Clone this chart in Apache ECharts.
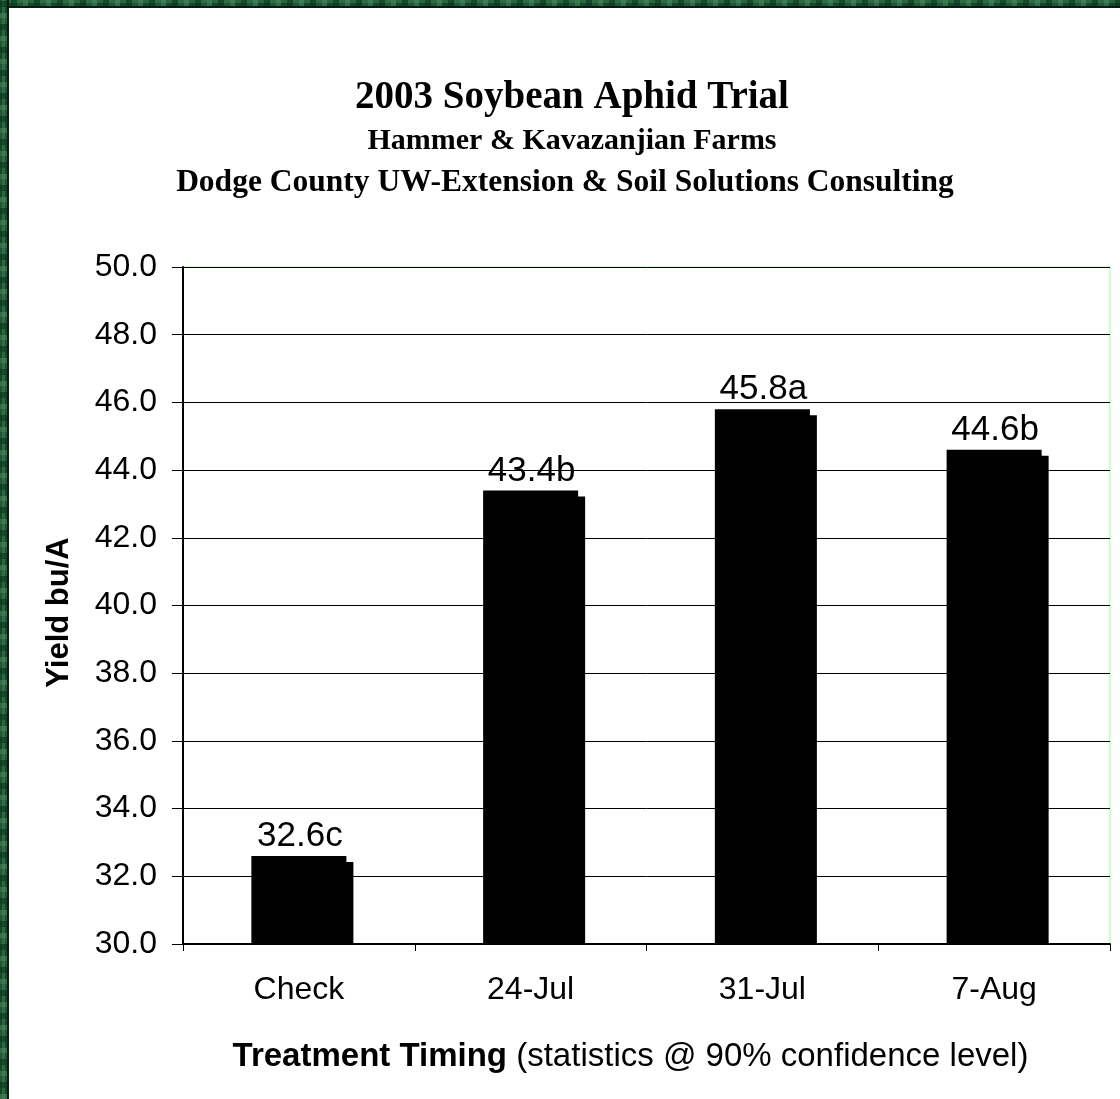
<!DOCTYPE html>
<html>
<head>
<meta charset="utf-8">
<title>2003 Soybean Aphid Trial</title>
<script src="https://cdn.jsdelivr.net/npm/echarts@6/dist/echarts.min.js"></script>
<style>
  html, body { margin: 0; padding: 0; background: #fff; }
  #chart { position: absolute; left: 0; top: 0; width: 1120px; height: 1099px; }
  .frame { position: absolute; pointer-events: none;
    background:
      repeating-linear-gradient(90deg, rgba(90,150,110,0.45) 0 5px, rgba(10,50,25,0.0) 5px 11px, rgba(10,55,30,0.6) 11px 17px, rgba(60,120,80,0.3) 17px 23px),
      repeating-linear-gradient(0deg, rgba(0,40,15,0.35) 0 3px, rgba(70,140,95,0.25) 3px 7px, rgba(20,80,45,0.2) 7px 10px),
      #1f5a35; }
  #frameTop { left: 0; top: 0; width: 1120px; height: 6px; border-bottom: 2px solid #05200e; }
  #frameLeft { left: 0; top: 0; width: 7px; height: 1099px; border-right: 2px solid #05200e;
    background:
      repeating-linear-gradient(0deg, rgba(90,150,110,0.45) 0 5px, rgba(10,50,25,0.0) 5px 11px, rgba(10,55,30,0.6) 11px 17px, rgba(60,120,80,0.3) 17px 23px),
      repeating-linear-gradient(90deg, rgba(0,40,15,0.35) 0 2px, rgba(70,140,95,0.25) 2px 5px),
      #1f5a35; }
</style>
</head>
<body>
<div id="chart"></div>
<div id="frameTop" class="frame"></div>
<div id="frameLeft" class="frame"></div>
<script>
// Treatment timings and mean yields (bu/A) with significance letters
const categories = ['Check', '24-Jul', '31-Jul', '7-Aug'];
const yields = [32.6, 43.4, 45.8, 44.6];
const letters = ['c', 'b', 'a', 'b'];
const yTicks = { min: 30, max: 50, interval: 2 };

const chart = echarts.init(document.getElementById('chart'), null, { renderer: 'canvas' });

const serif = '"Liberation Serif", "Times New Roman", serif';
const sans = '"Liberation Sans", Arial, sans-serif';

// Each bar is drawn as a solid block with a dropped offset block behind it
function renderBar(params, api) {
  const idx = api.value(0);
  const val = api.value(1);
  const top = api.coord([idx, val]);
  const base = api.coord([idx, yTicks.min]);
  const bw = api.size([1, 0])[0] * 0.41;
  const x = top[0] - bw / 2;
  const h = base[1] - top[1];
  const dx = 7, dy = 6;
  return {
    type: 'group',
    children: [
      { type: 'rect', shape: { x: x + dx, y: top[1] + dy, width: bw, height: h - dy },
        style: { fill: '#000' } },
      { type: 'rect', shape: { x: x, y: top[1], width: bw, height: h },
        style: { fill: '#000' } },
      { type: 'text', x: top[0] + 1, y: top[1] - 2,
        style: { text: val.toFixed(1) + letters[idx], font: '35px ' + sans, fill: '#000',
                 align: 'center', verticalAlign: 'bottom' } }
    ]
  };
}

chart.setOption({
  backgroundColor: '#fff',
  animation: false,
  grid: {
    left: 183, right: 10, top: 267, bottom: 155,
    show: true, borderColor: '#ccffcc', borderWidth: 2, backgroundColor: '#fff'
  },
  graphic: [
    { type: 'text', x: 572, y: 98, style: { text: '2003 Soybean Aphid Trial', font: 'bold 39px ' + serif,
      fill: '#000', align: 'center', verticalAlign: 'middle' } },
    { type: 'text', x: 572, y: 141, style: { text: 'Hammer & Kavazanjian Farms', font: 'bold 30px ' + serif,
      fill: '#000', align: 'center', verticalAlign: 'middle' } },
    { type: 'text', x: 565, y: 183, style: { text: 'Dodge County UW-Extension & Soil Solutions Consulting',
      font: 'bold 31.5px ' + serif, fill: '#000', align: 'center', verticalAlign: 'middle' } }
  ],
  xAxis: {
    type: 'category',
    data: categories,
    boundaryGap: true,
    axisLine: { lineStyle: { color: '#000', width: 2 } },
    axisTick: { show: true, alignWithLabel: false, length: 7, inside: false,
                lineStyle: { color: '#000', width: 1 } },
    axisLabel: { fontFamily: sans, fontSize: 32, color: '#000', margin: 30 },
    name: '{b|Treatment Timing} (statistics @ 90% confidence level)',
    nameLocation: 'middle',
    nameGap: 96,
    nameTextStyle: {
      fontFamily: sans, fontSize: 33, color: '#000', padding: [0, 32, 0, 0],
      rich: { b: { fontFamily: sans, fontSize: 33, fontWeight: 'bold', color: '#000' } }
    }
  },
  yAxis: {
    type: 'value',
    min: yTicks.min, max: yTicks.max, interval: yTicks.interval,
    axisLine: { show: true, lineStyle: { color: '#000', width: 2 } },
    axisTick: { show: true, length: 11, lineStyle: { color: '#000', width: 1 } },
    axisLabel: { fontFamily: sans, fontSize: 32, color: '#000', margin: 26,
                 formatter: v => v.toFixed(1) },
    splitLine: { show: true, lineStyle: { color: '#000', width: 1 } },
    name: 'Yield bu/A',
    nameLocation: 'middle',
    nameGap: 108,
    nameTextStyle: { fontFamily: sans, fontSize: 31, fontWeight: 'bold', color: '#000',
                     padding: [0, 14, 0, 0] }
  },
  series: [{
    type: 'custom',
    renderItem: renderBar,
    data: yields.map((v, i) => [i, v]),
    encode: { x: 0, y: 1 },
    clip: false,
    z: 3
  }]
});
</script>
</body>
</html>
